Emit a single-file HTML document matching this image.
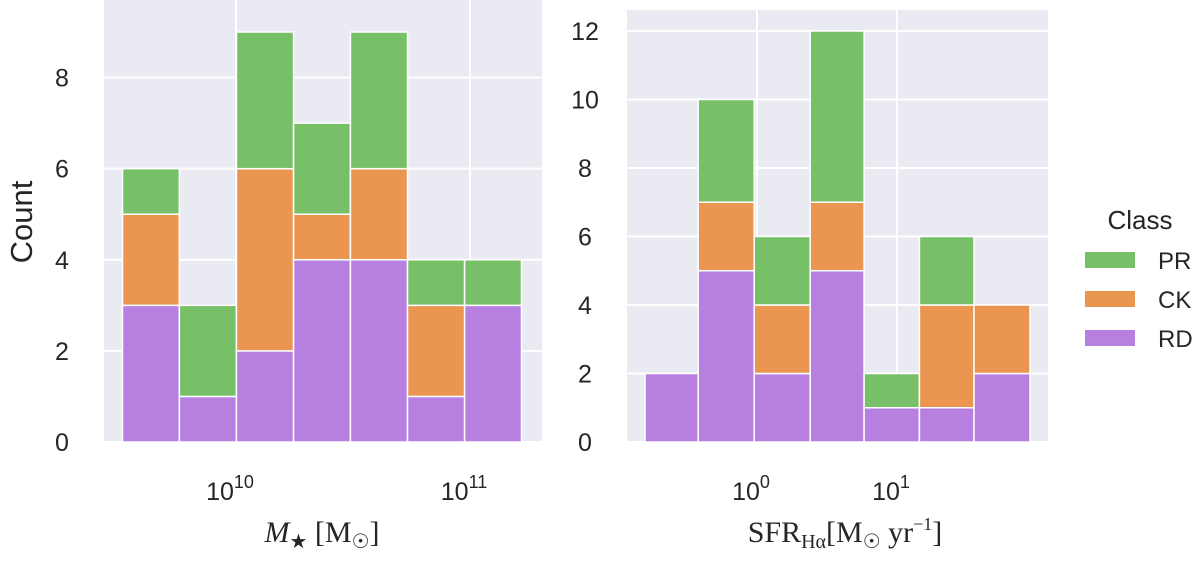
<!DOCTYPE html>
<html><head><meta charset="utf-8"><style>
body{margin:0;background:#fff;}
svg{font-family:"Liberation Sans","DejaVu Sans",sans-serif;}
</style></head><body>
<svg id="c" width="1200" height="558"></svg>
<script>
const leftCats=["b1","b2","b3","b4","b5","b6","b7"];
const leftRD=[3,1,2,4,4,1,3];
const leftCK=[2,0,4,1,2,2,0];
const leftPR=[1,2,3,2,3,1,1];
const leftYTicks=[0,2,4,6,8];
const leftEdgesLog=[9.515,9.758,10.002,10.246,10.489,10.733,10.977,11.22];
const rightRD=[2,5,2,5,1,1,2];
const rightCK=[0,2,2,2,0,3,2];
const rightPR=[0,3,2,5,1,2,0];
const rightYTicks=[0,2,4,6,8,10,12];
const rightEdgesLog=[-0.8,-0.42,-0.02,0.38,0.765,1.16,1.55,1.95];
const NS="http://www.w3.org/2000/svg";
const svg=document.getElementById('c');
const col={RD:"#b77fe0",CK:"#ea9651",PR:"#78c068"};
function mk(t,a,p){const e=document.createElementNS(NS,t);for(const k in a)e.setAttribute(k,a[k]);(p||svg).appendChild(e);return e;}
function panel(px0,px1,py0,py1,ymax,logA,logB,xA,xB,edges,RD,CK,PR,yt,xticks,name){
  const g=mk('g',{});
  
  
  const bg=mk('rect',{x:px0,y:py0,width:px1-px0,height:py1-py0,fill:"#eaeaf2"},g);
  
  
  const ys=v=>py1-v*(py1-py0-(ymax.pad))/ymax.v;
  const xs=l=>xA+(l-logA)*(xB-xA)/(logB-logA);
  yt.forEach(v=>{const l=mk('line',{x1:px0,x2:px1,y1:ys(v),y2:ys(v),stroke:"#fff","stroke-width":2},g);
    
    const t=mk('text',{x:px0-42,y:ys(v)+9,"font-size":25,fill:"#262626","text-anchor":"middle"},g);t.textContent=v;
    });
  xticks.forEach(e=>{const x=xs(e);const l=mk('line',{x1:x,x2:x,y1:py0,y2:py1,stroke:"#fff","stroke-width":2},g);
    
    const t=mk('text',{x:x-6,y:500,"font-size":25,fill:"#262626","text-anchor":"middle"},g);
    t.innerHTML='10<tspan dy="-12" font-size="18">'+e+'</tspan>';
    });
  for(let i=0;i<RD.length;i++){
    const x0=xs(edges[i]),x1=xs(edges[i+1]);let base=0;
    [["RD",RD[i]],["CK",CK[i]],["PR",PR[i]]].forEach(([k,v])=>{
      if(v>0){const r=mk('rect',{x:x0,y:ys(base+v),width:x1-x0,height:ys(base)-ys(base+v),fill:col[k],stroke:"#fff","stroke-width":1.5},g);
        }
      base+=v;});
  }
  return xs;
}
panel(104,542,0,442,{v:9,pad:32},10,11,236,470,leftEdgesLog,leftRD,leftCK,leftPR,leftYTicks,[10,11],"left-panel");
panel(627,1048,10,442,{v:12,pad:21},0,1,757,897,rightEdgesLog,rightRD,rightCK,rightPR,rightYTicks,[0,1],"right-panel");
function txt(x,y,s,html,name,extra){const t=mk('text',Object.assign({x:x,y:y,"font-size":s,fill:"#262626","text-anchor":"middle"},extra||{}));t.innerHTML=html;
  return t;}
txt(32,222,31,'Count','y-axis-title',{transform:'rotate(-90 32 222)'});
txt(322,542,30,'<tspan font-family="Liberation Serif" font-style="italic">M</tspan><tspan font-size="20" dy="6">★</tspan><tspan dy="-6" font-family="Liberation Serif"> [M</tspan><tspan font-size="20" dy="6">☉</tspan><tspan dy="-6" font-family="Liberation Serif">]</tspan>','left-x-axis-title');
txt(845,542,30,'<tspan font-family="Liberation Serif">SFR</tspan><tspan font-size="20" dy="6" font-family="Liberation Serif">Hα</tspan><tspan dy="-6" font-family="Liberation Serif">[M</tspan><tspan font-size="20" dy="6">☉</tspan><tspan dy="-6" font-family="Liberation Serif"> yr</tspan><tspan font-size="18" dy="-12" font-family="Liberation Serif">−1</tspan><tspan dy="12" font-family="Liberation Serif">]</tspan>','right-x-axis-title');
const lg=mk('g',{});

txt(1140,229,26,'Class','legend-title');
[["PR",0],["CK",1],["RD",2]].forEach(([k,i])=>{
  const y=260+i*39;
  const r=mk('rect',{x:1085,y:y-8,width:50,height:16,fill:col[k]},lg);
  
  const t=mk('text',{x:1158,y:y+9,"font-size":24,fill:"#262626"},lg);t.textContent=k;
  
});
</script>
</body></html>
